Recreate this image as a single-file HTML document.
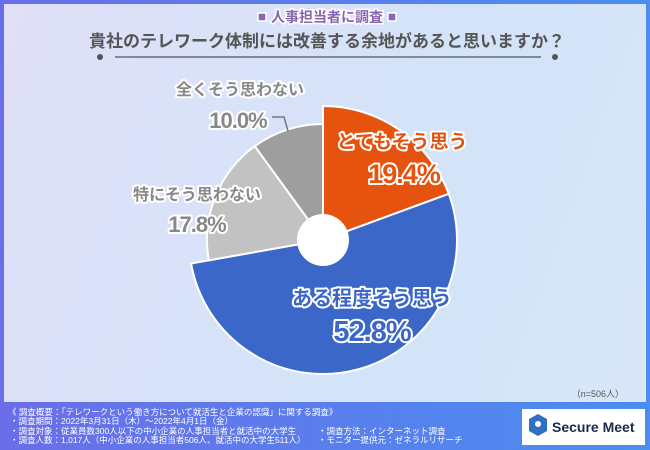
<!DOCTYPE html>
<html><head><meta charset="utf-8"><style>
html,body{margin:0;padding:0}
body{width:650px;height:450px;overflow:hidden;font-family:"Liberation Sans","Noto Sans CJK JP",sans-serif}
#wrap{position:relative;width:650px;height:450px;background:linear-gradient(90deg,#6a6ee8,#4a8ef0)}
#panel{position:absolute;left:4px;top:4px;width:642px;height:398px;background:linear-gradient(110deg,#e0e0f8,#d3e3f8 60%,#d8e6f8)}
svg{position:absolute;left:0;top:0}
</style></head><body>
<div id="wrap">
<div id="panel"></div>
<svg width="650" height="450" id="chart" font-family="Liberation Sans, Noto Sans CJK JP, sans-serif">
 <g>
  <rect x="258" y="13" width="8" height="8" fill="#8a65b0" stroke="#fff" stroke-width="1.5"/>
  <rect x="388" y="13" width="8" height="8" fill="#8a65b0" stroke="#fff" stroke-width="1.5"/>
  <text x="327" y="22" text-anchor="middle" font-size="14" font-weight="bold" fill="#8a65b0" stroke="#fff" stroke-width="3" paint-order="stroke">人事担当者に調査</text>
  <text x="327" y="47" text-anchor="middle" font-size="17" font-weight="bold" fill="#555">貴社のテレワーク体制には改善する余地があると思いますか？</text>
  <line x1="115" y1="57" x2="541" y2="57" stroke="#555" stroke-width="1.2"/>
  <circle cx="100" cy="57" r="3" fill="#555"/><circle cx="555" cy="57" r="3" fill="#555"/>
 </g>
 <g id="slices"></g>
 <circle cx="323" cy="240" r="26" fill="#fff"/>
 <g id="labels"></g>
 <polyline points="272,117 284,117 288,131" fill="none" stroke="#777" stroke-width="1.5"/>
 <text x="624" y="397" text-anchor="end" font-size="9" fill="#555">（n=506人）</text>
 <g font-size="8.5" fill="#fff">
  <text x="8" y="415">《 調査概要：「テレワークという働き方について就活生と企業の認識」に関する調査》</text>
  <text x="10" y="424">・調査期間：2022年3月31日（木）～2022年4月1日（金）</text>
  <text x="10" y="434">・調査対象：従業員数300人以下の中小企業の人事担当者と就活中の大学生</text>
  <text x="10" y="443">・調査人数：1,017人（中小企業の人事担当者506人、就活中の大学生511人）</text>
  <text x="318" y="434">・調査方法：インターネット調査</text>
  <text x="318" y="443">・モニター提供元：ゼネラルリサーチ</text>
 </g>
 <g>
  <rect x="522" y="409" width="123" height="36" fill="#fff"/>
  <path d="M538 414 l9 5 v12 l-9 5 l-9 -5 v-12 z" fill="#2f6fc4"/>
  <circle cx="538" cy="424" r="3" fill="#fff"/>
  <text x="552" y="432" font-size="14" font-weight="bold" fill="#1a2a4a">Secure Meet</text>
 </g>
</svg>
</div>
<script>
const categories=["とてもそう思う","ある程度そう思う","特にそう思わない","全くそう思わない"];
const values=[19.4,52.8,17.8,10.0];
const valueLabels=["19.4%","52.8%","17.8%","10.0%"];
const colors=["#e5530f","#3a67c8","#c2c2c2","#9e9e9e"];
const radii=[134,134,116,116];
const cx=323,cy=240;
const NS="http://www.w3.org/2000/svg";
const total=values.reduce((a,b)=>a+b,0);
function angle(v){return v/total*2*Math.PI;}
const sg=document.getElementById('slices');
let a0=0;
values.forEach((v,i)=>{
 const a1=a0+angle(v),r=radii[i];
 const x0=cx+r*Math.sin(a0),y0=cy-r*Math.cos(a0),x1=cx+r*Math.sin(a1),y1=cy-r*Math.cos(a1);
 const p=document.createElementNS(NS,'path');
 p.setAttribute('d',`M${cx},${cy}L${x0},${y0}A${r},${r} 0 ${a1-a0>Math.PI?1:0} 1 ${x1},${y1}Z`);
 p.setAttribute('fill',colors[i]);p.setAttribute('stroke','#fff');p.setAttribute('stroke-width','2');
 
 
 sg.appendChild(p);
 a0=a1;
});
const lblPos=[[402,148,19,404,183,27,"#e5530f"],[372,305,20,372,341,29,"#3a67c8"],[197,200,16,197,232,22,"#888"],[240,95,16,238,128,22,"#888"]];
const lg=document.getElementById('labels');
categories.forEach((c,i)=>{
 const [x,y,fs,x2,y2,fs2,col]=lblPos[i];
 [[c,x,y,fs],[valueLabels[i],x2,y2,fs2]].forEach((t,k)=>{
  const e=document.createElementNS(NS,'text');
  e.setAttribute('x',t[1]);e.setAttribute('y',t[2]);e.setAttribute('font-size',t[3]);
  e.setAttribute('text-anchor','middle');e.setAttribute('font-weight','bold');
  e.setAttribute('fill',col);e.setAttribute('stroke','#fff');e.setAttribute('stroke-width','4');
  e.setAttribute('paint-order','stroke');e.setAttribute('stroke-linejoin','round');
  if(k==1)e.setAttribute('letter-spacing','-1');
  e.textContent=t[0];
  
  
  lg.appendChild(e);
 });
});
</script>
</body></html>
